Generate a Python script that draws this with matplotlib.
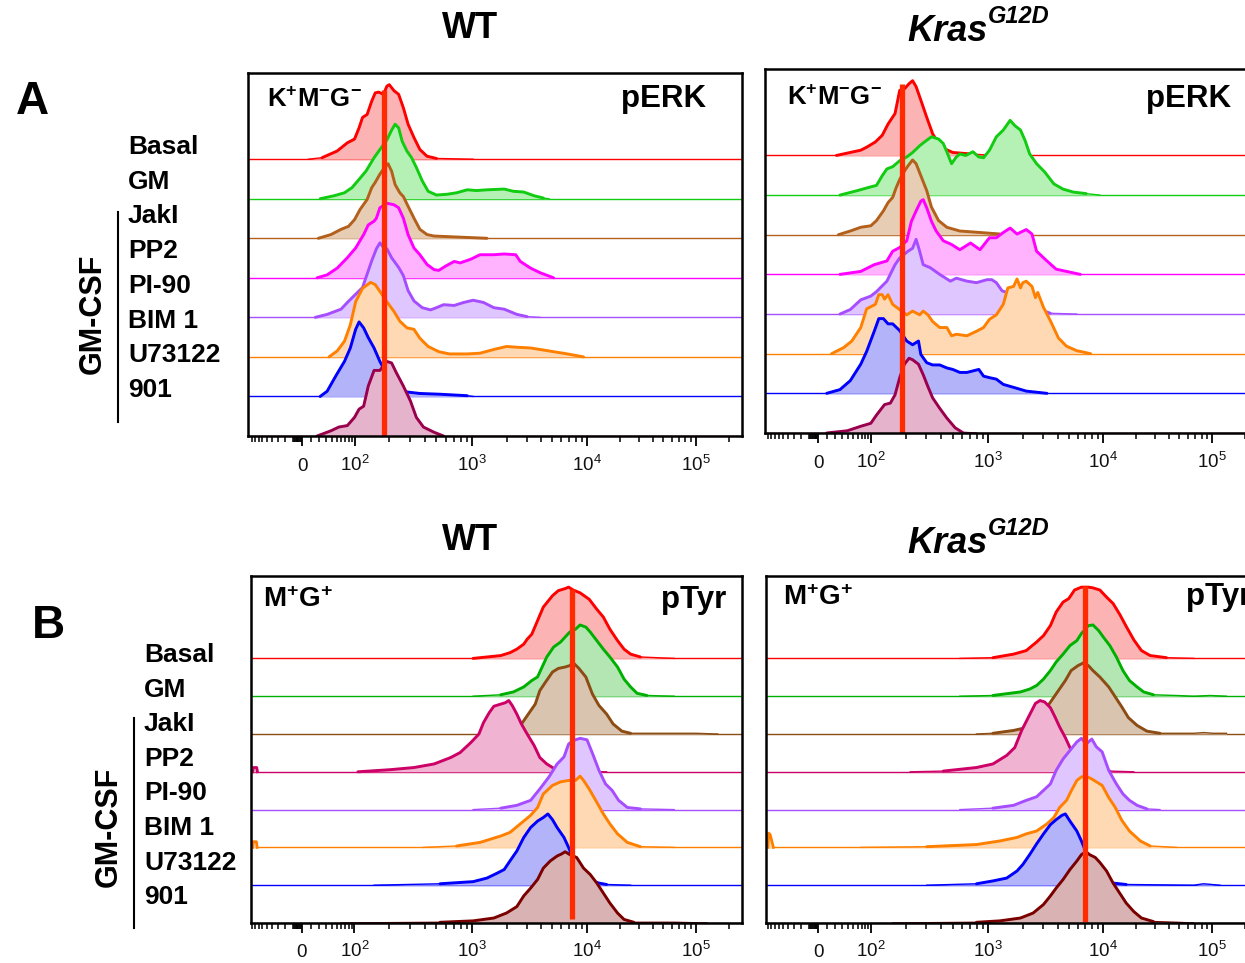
import numpy as np
import matplotlib
matplotlib.use("Agg")
import matplotlib.pyplot as plt
from matplotlib.lines import Line2D

# ::: fonts :::
plt.rcParams['font.family'] = ['Liberation Sans', 'DejaVu Sans']
plt.rcParams['mathtext.fontset'] = 'custom'
plt.rcParams['mathtext.rm'] = 'Liberation Sans'
plt.rcParams['mathtext.it'] = 'Liberation Sans:italic:bold'
plt.rcParams['mathtext.bf'] = 'Liberation Sans:bold'

W, H = 1245, 963

# ::::::::::::::::::::::::::::::::::::::::::::::::::::::::::::::::::::::
# :::                       DATA               :::
# ::: x = log10 fluorescence, y = % of mode                          :::
# ::::::::::::::::::::::::::::::::::::::::::::::::::::::::::::::::::::::
rows = ["Basal", "GM", "JakI", "PP2", "PI-90", "BIM 1", "U73122", "901"]

# ----- A, WT, pERK -----
a_wt_basal_fl = [0.85, 1.38, 1.70, 1.88, 2.00, 2.04, 2.07, 2.11, 2.15, 2.18, 2.21, 2.25, 2.28, 2.30, 2.34, 2.38, 2.42, 2.46, 2.51, 2.56, 2.62, 2.70, 3.01]
a_wt_basal_pct = [0, 2, 11, 22, 27, 42, 56, 60, 78, 89, 90, 87, 98, 100, 92, 87, 69, 47, 29, 13, 4, 1, 0]
a_wt_gm_fl = [1.33, 1.64, 1.83, 1.96, 2.04, 2.10, 2.17, 2.22, 2.28, 2.32, 2.35, 2.38, 2.41, 2.45, 2.49, 2.53, 2.58, 2.63, 2.70, 2.79, 2.87, 2.96, 3.04, 3.13, 3.28, 3.36, 3.45, 3.54, 3.62, 3.67]
a_wt_gm_pct = [0, 4, 8, 15, 26, 37, 55, 66, 79, 92, 100, 95, 77, 64, 55, 42, 24, 10, 5, 6, 8, 12, 11, 12, 13, 10, 9, 4, 1, 0]
a_wt_jaki_fl = [1.28, 1.58, 1.77, 1.90, 2.00, 2.05, 2.11, 2.15, 2.18, 2.22, 2.26, 2.29, 2.32, 2.35, 2.39, 2.42, 2.46, 2.51, 2.56, 2.62, 2.68, 3.13]
a_wt_jaki_pct = [0, 5, 12, 16, 25, 39, 52, 68, 75, 86, 95, 100, 90, 72, 61, 56, 43, 27, 12, 5, 3, 0]
a_wt_pp2_fl = [1.24, 1.50, 1.70, 1.88, 2.01, 2.08, 2.12, 2.17, 2.19, 2.22, 2.28, 2.34, 2.38, 2.42, 2.46, 2.51, 2.56, 2.62, 2.68, 2.72, 2.78, 2.85, 2.90, 2.99, 3.07, 3.19, 3.28, 3.38, 3.42, 3.51, 3.59, 3.71]
a_wt_pp2_pct = [0, 4, 13, 27, 40, 58, 71, 76, 80, 94, 100, 98, 94, 80, 58, 40, 31, 18, 11, 10, 16, 22, 20, 25, 31, 31, 32, 31, 22, 13, 7, 0]
a_wt_pi90_fl = [1.18, 1.50, 1.77, 1.88, 2.01, 2.07, 2.11, 2.15, 2.19, 2.22, 2.25, 2.28, 2.32, 2.38, 2.42, 2.46, 2.51, 2.58, 2.65, 2.70, 2.76, 2.85, 2.93, 3.01, 3.10, 3.19, 3.28, 3.39, 3.48, 3.59]
a_wt_pi90_pct = [0, 4, 11, 20, 31, 40, 58, 76, 92, 100, 94, 92, 80, 67, 56, 36, 22, 13, 10, 13, 17, 16, 20, 23, 20, 13, 11, 4, 1, 0]
a_wt_bim1_fl = [1.54, 1.70, 1.83, 1.93, 2.01, 2.07, 2.14, 2.18, 2.22, 2.28, 2.34, 2.39, 2.45, 2.51, 2.56, 2.63, 2.72, 2.81, 2.96, 3.07, 3.19, 3.30, 3.39, 3.51, 3.59, 3.71, 3.83, 3.97]
a_wt_bim1_pct = [0, 8, 21, 43, 74, 92, 100, 97, 88, 74, 61, 48, 39, 37, 25, 14, 7, 4, 4, 5, 10, 14, 13, 12, 10, 7, 4, 0]
a_wt_u73122_fl = [1.33, 1.50, 1.67, 1.83, 1.93, 2.01, 2.04, 2.08, 2.12, 2.17, 2.22, 2.28, 2.34, 2.39, 2.45, 2.56, 2.73, 2.96, 3.01]
a_wt_u73122_pct = [0, 7, 27, 47, 65, 90, 100, 92, 79, 65, 47, 29, 18, 9, 6, 4, 3, 1, 0]
a_wt_901_fl = [1.24, 1.58, 1.73, 1.88, 2.00, 2.04, 2.08, 2.12, 2.17, 2.22, 2.28, 2.32, 2.36, 2.42, 2.48, 2.53, 2.59, 2.68, 2.76]
a_wt_901_pct = [0, 7, 12, 14, 25, 36, 40, 67, 88, 88, 100, 98, 85, 67, 47, 25, 12, 5, 0]

# ----- A, Kras G12D, pERK -----
a_kras_basal_fl = [1.33, 1.83, 1.93, 2.04, 2.10, 2.15, 2.21, 2.25, 2.29, 2.33, 2.36, 2.39, 2.43, 2.48, 2.53, 2.60, 2.70, 2.85, 3.04]
a_kras_basal_pct = [0, 7, 11, 18, 27, 42, 56, 87, 89, 96, 100, 92, 74, 51, 29, 11, 4, 2, 0]
a_kras_gm_fl = [1.42, 1.77, 2.00, 2.05, 2.10, 2.14, 2.19, 2.25, 2.31, 2.36, 2.42, 2.46, 2.52, 2.58, 2.62, 2.65, 2.69, 2.73, 2.76, 2.81, 2.87, 2.92, 2.96, 3.01, 3.07, 3.13, 3.19, 3.23, 3.28, 3.32, 3.36, 3.42, 3.49, 3.57, 3.65, 3.74, 3.85, 3.97]
a_kras_gm_pct = [0, 6, 11, 13, 26, 35, 38, 46, 51, 57, 66, 71, 78, 75, 69, 58, 42, 51, 55, 53, 58, 51, 50, 60, 78, 87, 100, 93, 87, 73, 55, 42, 31, 15, 8, 4, 2, 0]
a_kras_jaki_fl = [1.38, 1.64, 1.83, 2.00, 2.05, 2.11, 2.15, 2.19, 2.22, 2.25, 2.29, 2.32, 2.36, 2.39, 2.43, 2.48, 2.52, 2.58, 2.65, 2.76, 2.93, 3.10, 3.22]
a_kras_jaki_pct = [0, 5, 10, 12, 19, 32, 43, 50, 63, 74, 85, 92, 100, 95, 79, 59, 37, 19, 10, 5, 3, 1, 0]
a_kras_pp2_fl = [1.42, 1.83, 2.03, 2.14, 2.19, 2.25, 2.31, 2.35, 2.39, 2.43, 2.45, 2.48, 2.52, 2.56, 2.62, 2.69, 2.76, 2.85, 2.93, 3.01, 3.07, 3.13, 3.19, 3.25, 3.33, 3.38, 3.42, 3.51, 3.59, 3.68, 3.80]
a_kras_pp2_pct = [0, 4, 13, 18, 31, 36, 45, 71, 85, 98, 100, 89, 71, 58, 45, 40, 33, 42, 33, 49, 49, 56, 62, 54, 60, 54, 31, 18, 7, 4, 0]
a_kras_pi90_fl = [1.42, 1.64, 1.83, 2.00, 2.05, 2.14, 2.21, 2.25, 2.32, 2.36, 2.39, 2.42, 2.45, 2.51, 2.59, 2.68, 2.73, 2.82, 2.90, 2.99, 3.03, 3.07, 3.12, 3.22, 3.33, 3.45, 3.54, 3.77]
a_kras_pi90_pct = [0, 6, 19, 24, 30, 44, 66, 75, 84, 88, 100, 84, 66, 62, 53, 44, 48, 44, 42, 46, 46, 42, 31, 26, 17, 6, 1, 0]
a_kras_bim1_fl = [1.18, 1.50, 1.67, 1.83, 1.93, 2.04, 2.07, 2.10, 2.12, 2.15, 2.19, 2.25, 2.31, 2.36, 2.42, 2.45, 2.49, 2.53, 2.59, 2.65, 2.69, 2.73, 2.82, 2.90, 2.96, 3.01, 3.07, 3.13, 3.17, 3.22, 3.25, 3.28, 3.30, 3.33, 3.38, 3.41, 3.43, 3.48, 3.54, 3.61, 3.68, 3.77, 3.89]
a_kras_bim1_pct = [0, 8, 17, 35, 60, 66, 79, 79, 73, 79, 66, 59, 52, 57, 52, 57, 52, 43, 35, 35, 24, 26, 24, 30, 35, 46, 52, 66, 88, 90, 100, 88, 95, 97, 90, 75, 82, 62, 44, 21, 10, 4, 0]
a_kras_u73122_fl = [0.97, 1.42, 1.64, 1.83, 1.93, 2.03, 2.07, 2.11, 2.15, 2.19, 2.25, 2.31, 2.36, 2.41, 2.43, 2.48, 2.53, 2.59, 2.65, 2.70, 2.76, 2.82, 2.87, 2.92, 2.96, 3.01, 3.07, 3.13, 3.22, 3.33, 3.51]
a_kras_u73122_pct = [0, 5, 17, 39, 56, 83, 100, 100, 93, 93, 84, 70, 65, 70, 52, 41, 38, 38, 34, 32, 28, 28, 30, 32, 23, 21, 19, 12, 8, 3, 0]
a_kras_901_fl = [0.97, 1.58, 1.83, 2.00, 2.05, 2.12, 2.17, 2.21, 2.25, 2.29, 2.33, 2.36, 2.41, 2.45, 2.49, 2.53, 2.59, 2.65, 2.72, 2.78, 2.90]
a_kras_901_pct = [0, 3, 9, 13, 24, 38, 40, 51, 74, 92, 100, 98, 92, 78, 62, 47, 33, 20, 7, 1, 0]

# ----- B, WT, pTyr -----
b_wt_basal_fl = [3.01, 3.25, 3.33, 3.39, 3.45, 3.48, 3.52, 3.57, 3.62, 3.70, 3.75, 3.81, 3.84, 3.88, 3.94, 4.02, 4.09, 4.15, 4.21, 4.28, 4.34, 4.40, 4.49, 4.64, 4.80]
b_wt_basal_pct = [0, 4, 8, 13, 20, 27, 34, 53, 72, 88, 95, 98, 100, 96, 92, 83, 69, 58, 41, 25, 13, 6, 2, 1, 0]
b_wt_gm_fl = [3.01, 3.25, 3.36, 3.45, 3.52, 3.57, 3.61, 3.65, 3.71, 3.77, 3.81, 3.85, 3.90, 3.94, 3.99, 4.03, 4.09, 4.15, 4.21, 4.28, 4.34, 4.40, 4.46, 4.55, 4.80]
b_wt_gm_pct = [0, 2, 6, 13, 22, 27, 41, 55, 69, 76, 83, 90, 94, 100, 97, 90, 78, 66, 55, 41, 24, 13, 4, 1, 0]
b_wt_jaki_fl = [3.19, 3.36, 3.43, 3.49, 3.55, 3.59, 3.64, 3.70, 3.75, 3.81, 3.85, 3.88, 3.93, 3.99, 4.05, 4.11, 4.18, 4.24, 4.32, 4.40, 4.49, 4.70, 5.00, 5.20]
b_wt_jaki_pct = [0, 5, 14, 28, 42, 61, 73, 87, 92, 94, 96, 100, 92, 80, 56, 40, 28, 14, 4, 1, 1, 1, 1, 0]
b_wt_pp2_fl = [2.03, 2.31, 2.51, 2.68, 2.82, 2.90, 2.99, 3.06, 3.10, 3.15, 3.19, 3.25, 3.29, 3.32, 3.35, 3.39, 3.43, 3.48, 3.54, 3.59, 3.65, 3.71, 3.83, 4.18]
b_wt_pp2_pct = [0, 3, 6, 11, 20, 27, 41, 53, 69, 83, 92, 95, 97, 100, 93, 81, 67, 53, 37, 20, 11, 5, 1, 0]
b_wt_pi90_fl = [3.01, 3.25, 3.39, 3.51, 3.59, 3.67, 3.74, 3.80, 3.84, 3.88, 3.94, 4.00, 4.05, 4.11, 4.17, 4.23, 4.29, 4.37, 4.49, 4.80]
b_wt_pi90_pct = [0, 2, 6, 13, 29, 46, 64, 74, 92, 97, 100, 98, 79, 55, 36, 27, 13, 3, 1, 0]
b_wt_bim1_fl = [2.59, 2.87, 3.07, 3.25, 3.33, 3.42, 3.51, 3.57, 3.62, 3.70, 3.77, 3.84, 3.90, 3.94, 3.97, 4.02, 4.08, 4.15, 4.21, 4.28, 4.37, 4.49, 4.80]
b_wt_bim1_pct = [0, 2, 7, 16, 21, 33, 45, 56, 75, 87, 92, 94, 94, 100, 94, 82, 66, 47, 33, 19, 7, 1, 0]
b_wt_u73122_fl = [2.17, 2.73, 3.01, 3.13, 3.22, 3.28, 3.33, 3.39, 3.45, 3.51, 3.57, 3.62, 3.66, 3.70, 3.74, 3.80, 3.84, 3.88, 3.94, 4.00, 4.11, 4.18, 4.40]
b_wt_u73122_pct = [0, 2, 5, 10, 17, 22, 34, 48, 67, 81, 90, 95, 100, 92, 81, 67, 53, 36, 20, 8, 3, 1, 0]
b_wt_901_fl = [1.77, 2.73, 3.01, 3.19, 3.30, 3.39, 3.45, 3.51, 3.57, 3.62, 3.68, 3.74, 3.78, 3.81, 3.85, 3.91, 3.97, 4.03, 4.09, 4.15, 4.21, 4.28, 4.34, 4.43, 4.64, 4.80, 5.10]
b_wt_901_pct = [0, 1, 3, 7, 14, 23, 38, 49, 61, 77, 87, 94, 97, 100, 96, 92, 77, 68, 56, 42, 28, 14, 5, 1, 1, 1, 0]
# events piled at the low edge (raw values, not log)
b_wt_pp2_edge = [-88, -86, -75, -73]
b_wt_pp2_edge_pct = [0, 6, 6, 0]
b_wt_bim1_edge = [-88, -86, -76, -74]
b_wt_bim1_edge_pct = [0, 8, 8, 0]

# ----- B, Kras G12D, pTyr -----
b_kras_basal_fl = [2.76, 3.04, 3.22, 3.33, 3.42, 3.48, 3.54, 3.59, 3.65, 3.70, 3.75, 3.81, 3.87, 3.91, 3.97, 4.03, 4.09, 4.15, 4.21, 4.28, 4.35, 4.43, 4.58, 4.83]
b_kras_basal_pct = [0, 1, 6, 11, 23, 32, 46, 65, 79, 84, 96, 100, 100, 99, 96, 86, 77, 62, 45, 26, 11, 4, 1, 0]
b_kras_gm_fl = [2.76, 3.04, 3.28, 3.36, 3.42, 3.48, 3.54, 3.59, 3.65, 3.71, 3.77, 3.81, 3.87, 3.91, 3.96, 4.00, 4.06, 4.12, 4.18, 4.24, 4.31, 4.37, 4.46, 4.67, 4.83, 4.98, 5.13]
b_kras_gm_pct = [0, 1, 6, 10, 15, 24, 36, 48, 59, 71, 78, 88, 99, 100, 92, 83, 71, 55, 36, 22, 13, 6, 2, 1, 0, 1, 0]
b_kras_jaki_fl = [2.90, 3.04, 3.22, 3.33, 3.42, 3.49, 3.55, 3.61, 3.67, 3.72, 3.78, 3.83, 3.87, 3.91, 3.97, 4.05, 4.11, 4.17, 4.23, 4.31, 4.40, 4.52, 4.83, 4.92, 5.01, 5.13]
b_kras_jaki_pct = [0, 1, 5, 9, 19, 33, 47, 61, 75, 89, 96, 100, 96, 89, 80, 66, 52, 38, 23, 12, 4, 1, 1, 2, 1, 1]
b_kras_pp2_fl = [2.34, 2.62, 2.90, 3.04, 3.16, 3.23, 3.29, 3.35, 3.41, 3.45, 3.49, 3.54, 3.58, 3.62, 3.67, 3.71, 3.77, 3.85, 4.06, 4.28]
b_kras_pp2_pct = [0, 1, 6, 11, 23, 34, 58, 77, 96, 100, 98, 90, 77, 63, 48, 34, 20, 6, 1, 0]
b_kras_pi90_fl = [2.76, 3.04, 3.22, 3.33, 3.42, 3.48, 3.54, 3.59, 3.65, 3.71, 3.77, 3.81, 3.85, 3.90, 3.94, 3.99, 4.05, 4.12, 4.18, 4.24, 4.31, 4.40, 4.52]
b_kras_pi90_pct = [0, 2, 6, 13, 18, 27, 36, 55, 71, 83, 95, 100, 92, 99, 88, 81, 55, 36, 22, 13, 6, 1, 0]
b_kras_bim1_fl = [1.83, 2.48, 2.90, 3.10, 3.25, 3.33, 3.42, 3.51, 3.57, 3.62, 3.68, 3.72, 3.77, 3.81, 3.85, 3.90, 3.94, 3.99, 4.05, 4.11, 4.17, 4.24, 4.34, 4.43, 4.67]
b_kras_bim1_pct = [0, 1, 4, 9, 14, 19, 23, 33, 42, 56, 66, 79, 94, 99, 100, 96, 92, 87, 70, 56, 38, 23, 9, 2, 0]
b_kras_u73122_fl = [2.48, 2.90, 3.04, 3.16, 3.25, 3.30, 3.36, 3.42, 3.48, 3.54, 3.59, 3.64, 3.67, 3.71, 3.77, 3.81, 3.84, 3.88, 3.94, 4.03, 4.09, 4.21, 4.83, 4.92, 5.07]
b_kras_u73122_pct = [0, 2, 6, 10, 20, 29, 43, 58, 72, 85, 92, 98, 100, 90, 76, 62, 50, 34, 17, 8, 3, 1, 0, 2, 0]
b_kras_901_fl = [2.19, 2.90, 3.10, 3.28, 3.39, 3.48, 3.54, 3.59, 3.65, 3.71, 3.77, 3.81, 3.85, 3.88, 3.93, 3.97, 4.03, 4.09, 4.15, 4.21, 4.28, 4.35, 4.46, 4.67, 4.83]
b_kras_901_pct = [0, 1, 3, 7, 14, 26, 38, 49, 61, 75, 87, 96, 100, 96, 92, 85, 73, 56, 42, 28, 16, 7, 2, 1, 0]
b_kras_bim1_edge = [-92, -89, -84, -74]
b_kras_bim1_edge_pct = [0, 20, 18, 0]

# reference (basal median) marker per panel
marker_fl = [180, 186, 7400, 7000]
marker_top = [8.76, 8.81, 8.83, 8.91]
marker_bottom = [0.0, 0.0, 0.1, 0.03]

tick_vals = [0, 1e2, 1e3, 1e4, 1e5]
tick_text = ['0', r'$10^{2}$', r'$10^{3}$', r'$10^{4}$', r'$10^{5}$']

# ::: colours :::
top_lines = ['#ff0000', '#11cc11', '#b3601c', '#ff00ff', '#a64dff', '#ff8000', '#0000ff', '#99004d']
top_fills = ['#fbb3b3', '#b5f0b5', '#e6cdb3', '#ffb3ff', '#e0c6ff', '#ffd9b3', '#b3b3fa', '#e6b3cc']
bot_lines = ['#ff0000', '#00b000', '#8c4c14', '#cc0066', '#a64dff', '#ff8000', '#0000ff', '#7a0000']
bot_fills = ['#fbb3b3', '#b3e6b3', '#d9c4b0', '#f0b3d1', '#e0c6ff', '#ffd9b3', '#b3b3fa', '#d9b3b3']
MARK = '#ff2a00'

# ::: logicle-like display scale (asinh, pinned to the printed decade positions) :::
A = 30.0
anchor_fl = np.array([-1e6, -100, 0, 100, 1e3, 1e4, 1e5, 1e6])
anchor_px = np.array([-305, -52.7, 0, 52.5, 170, 285, 394, 503])
anchor_g = np.arcsinh(anchor_fl / A)


def fwd(x):
    return np.interp(np.arcsinh(np.asarray(x, dtype=float) / A), anchor_g, anchor_px)


def inv(p):
    return A * np.sinh(np.interp(np.asarray(p, dtype=float), anchor_px, anchor_g))


YTOP = 9.18
HSCALE = 1.885 / 100.0

fig = plt.figure(figsize=(W / 100, H / 100), dpi=100)


def ftext(x, y, s, **kw):
    fig.text(x / W, 1 - y / H, s, **kw)


def draw_panel(box, lim_px, curves, lines, fills, edges, k, label_drop):
    l, t, r, b = box
    ax = fig.add_axes([l / W, 1 - b / H, (r - l) / W, (b - t) / H])
    ax.set_xscale('function', functions=(fwd, inv))
    xl = (float(inv(lim_px[0])), float(inv(lim_px[1])))
    ax.set_xlim(xl)
    ax.set_ylim(0, YTOP)
    n = len(curves)
    for i, (fl, pct) in enumerate(curves):
        off = n - 1 - i
        z = 1 + i * 0.1
        p = np.array(pct, dtype=float)
        x = 10 ** np.array(fl)
        y = off + p * HSCALE
        # thin baseline + thin near-zero tails, thick outline over the body
        ax.plot(xl, [off, off], color=lines[i], lw=1.0, zorder=z)
        ax.fill_between(x, off, y, color=fills[i], lw=0, zorder=z + 0.01)
        ax.plot(x, y, color=lines[i], lw=1.0, zorder=z + 0.02)
        body = np.where(p >= 3)[0]
        i0, i1 = max(body[0] - 1, 0), min(body[-1] + 1, len(p) - 1)
        ax.plot(x[i0:i1 + 1], y[i0:i1 + 1], color=lines[i], lw=2.1, zorder=z + 0.03,
                solid_joinstyle='round', solid_capstyle='round')
        if i in edges:
            ex, ep = edges[i]
            ey = off + np.array(ep) * HSCALE
            ax.fill_between(ex, off, ey, color=fills[i], lw=0, zorder=z + 0.01)
            ax.plot(ex, ey, color=lines[i], lw=2.0, zorder=z + 0.02)
    ax.plot([marker_fl[k], marker_fl[k]], [marker_bottom[k], marker_top[k]],
            color=MARK, lw=3.8, solid_capstyle='butt', zorder=2.4)

    # ::: axis styling :::
    for s in ax.spines.values():
        s.set_linewidth(1.8)
        s.set_zorder(3)
    ax.set_yticks([])
    ax.set_xticks(tick_vals)
    ax.set_xticklabels([''] * len(tick_vals))
    minor = [-k2 for k2 in range(1, 10)] + [-10 * k2 for k2 in range(1, 10)]
    for e in range(1, 6):
        minor += [m * 10 ** e for m in range(1, 10) if m * 10 ** e < 262144]
    minor = [m for m in minor if m not in tick_vals]
    ax.set_xticks(minor, minor=True)
    ax.tick_params(axis='x', which='major', direction='out', length=7.5, width=1.3)
    ax.tick_params(axis='x', which='minor', direction='out', length=4, width=1.1)
    for v, s in zip(tick_vals, tick_text):
        ax.annotate(s, xy=(v, 0), xycoords=('data', 'axes fraction'),
                    xytext=(0, -label_drop), textcoords='offset points',
                    ha='center', va='baseline', fontsize=13.5, color='#111111')
    return ax


panel_a_wt = [(a_wt_basal_fl, a_wt_basal_pct), (a_wt_gm_fl, a_wt_gm_pct), (a_wt_jaki_fl, a_wt_jaki_pct),
              (a_wt_pp2_fl, a_wt_pp2_pct), (a_wt_pi90_fl, a_wt_pi90_pct), (a_wt_bim1_fl, a_wt_bim1_pct),
              (a_wt_u73122_fl, a_wt_u73122_pct), (a_wt_901_fl, a_wt_901_pct)]
panel_a_kras = [(a_kras_basal_fl, a_kras_basal_pct), (a_kras_gm_fl, a_kras_gm_pct), (a_kras_jaki_fl, a_kras_jaki_pct),
                (a_kras_pp2_fl, a_kras_pp2_pct), (a_kras_pi90_fl, a_kras_pi90_pct), (a_kras_bim1_fl, a_kras_bim1_pct),
                (a_kras_u73122_fl, a_kras_u73122_pct), (a_kras_901_fl, a_kras_901_pct)]
panel_b_wt = [(b_wt_basal_fl, b_wt_basal_pct), (b_wt_gm_fl, b_wt_gm_pct), (b_wt_jaki_fl, b_wt_jaki_pct),
              (b_wt_pp2_fl, b_wt_pp2_pct), (b_wt_pi90_fl, b_wt_pi90_pct), (b_wt_bim1_fl, b_wt_bim1_pct),
              (b_wt_u73122_fl, b_wt_u73122_pct), (b_wt_901_fl, b_wt_901_pct)]
panel_b_kras = [(b_kras_basal_fl, b_kras_basal_pct), (b_kras_gm_fl, b_kras_gm_pct), (b_kras_jaki_fl, b_kras_jaki_pct),
                (b_kras_pp2_fl, b_kras_pp2_pct), (b_kras_pi90_fl, b_kras_pi90_pct), (b_kras_bim1_fl, b_kras_bim1_pct),
                (b_kras_u73122_fl, b_kras_u73122_pct), (b_kras_901_fl, b_kras_901_pct)]

draw_panel((248, 73, 742, 436), (-54, 440), panel_a_wt, top_lines, top_fills, {}, 0, 25)
draw_panel((765, 69, 1259, 433), (-53.3, 440.7), panel_a_kras, top_lines, top_fills, {}, 1, 25)
draw_panel((251, 576, 742, 923), (-51, 440), panel_b_wt, bot_lines, bot_fills,
           {3: (b_wt_pp2_edge, b_wt_pp2_edge_pct), 5: (b_wt_bim1_edge, b_wt_bim1_edge_pct)}, 2, 24.5)
draw_panel((766, 576, 1257, 923), (-52.3, 438.7), panel_b_kras, bot_lines, bot_fills,
           {5: (b_kras_bim1_edge, b_kras_bim1_edge_pct)}, 3, 24.5)

# ::: titles and labels :::
for ty in (0, 512):
    ftext(470, 28 + ty, 'WT', fontsize=26, weight='bold', ha='center', va='center')
    ftext(907, 41 + ty, 'Kras', fontsize=26, weight='bold', style='italic', ha='left', va='baseline')
    ftext(988, 23 + ty, 'G12D', fontsize=17, weight='bold', style='italic', ha='left', va='baseline')

ftext(32, 102, 'A', fontsize=33, weight='bold', ha='center', va='center')
ftext(48, 626, 'B', fontsize=33, weight='bold', ha='center', va='center')

ftext(267, 107, r'$\mathbf{K^{+}M^{-}G^{-}}$', fontsize=18.5, ha='left', va='baseline')
ftext(621, 107, 'pERK', fontsize=22.5, weight='bold', ha='left', va='baseline')
ftext(787, 105, r'$\mathbf{K^{+}M^{-}G^{-}}$', fontsize=18.5, ha='left', va='baseline')
ftext(1146, 107, 'pERK', fontsize=22.5, weight='bold', ha='left', va='baseline')
ftext(263, 607, r'$\mathbf{M^{+}G^{+}}$', fontsize=20, ha='left', va='baseline')
ftext(661, 608, 'pTyr', fontsize=22.5, weight='bold', ha='left', va='baseline')
ftext(783, 605, r'$\mathbf{M^{+}G^{+}}$', fontsize=20, ha='left', va='baseline')
ftext(1186, 605, 'pTyr', fontsize=22.5, weight='bold', ha='left', va='baseline')

for i, name in enumerate(rows):
    ftext(128, 154 + i * 34.7, name, fontsize=19, weight='bold', ha='left', va='baseline')
    ftext(144, 662 + i * 34.6, name, fontsize=19, weight='bold', ha='left', va='baseline')

ftext(93, 314, 'GM-CSF', fontsize=22, weight='bold', rotation=90, ha='center', va='center')
ftext(109, 827, 'GM-CSF', fontsize=22, weight='bold', rotation=90, ha='center', va='center')
fig.add_artist(Line2D([118 / W, 118 / W], [1 - 212 / H, 1 - 422 / H], color='black', lw=1.5))
fig.add_artist(Line2D([134 / W, 134 / W], [1 - 718 / H, 1 - 928 / H], color='black', lw=1.5))

fig.savefig('out.png', dpi=100)
